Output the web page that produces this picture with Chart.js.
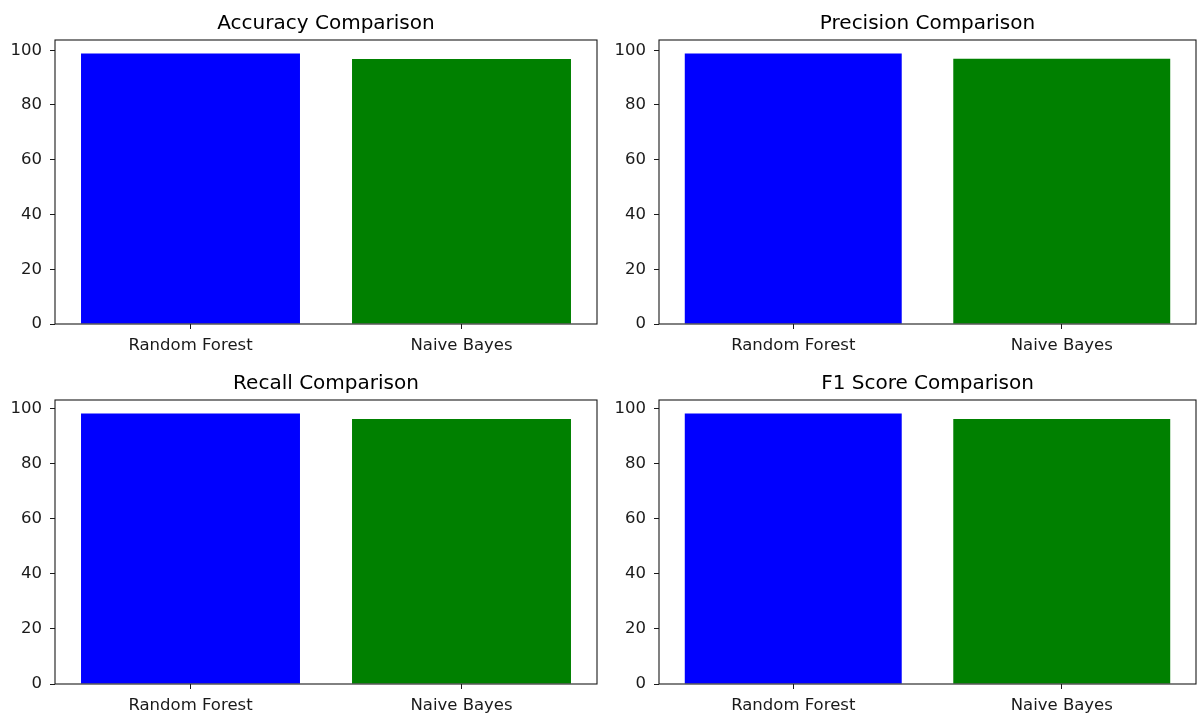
<!DOCTYPE html>
<html>
<head>
<meta charset="utf-8">
<script src="https://cdn.jsdelivr.net/npm/chart.js@4.4.0/dist/chart.umd.min.js"></script>
<style>
  body { margin: 0; background: #fff; }
  #wrap { position: relative; width: 1197px; height: 717px; overflow: hidden; }
  canvas { position: absolute; }
</style>
</head>
<body>
<div id="wrap">
  <canvas id="c0" width="600" height="360" style="left:0;top:0"></canvas>
  <canvas id="c1" width="597" height="360" style="left:600px;top:0"></canvas>
  <canvas id="c2" width="600" height="357" style="left:0;top:360px"></canvas>
  <canvas id="c3" width="597" height="357" style="left:600px;top:360px"></canvas>
</div>
<script>
// data
const models = ["Random Forest", "Naive Bayes"];
const accuracy = [98.8, 96.8];
const precision = [98.8, 96.9];
const recall = [98.2, 96.2];
const f1Score = [98.3, 96.3];
const yTicks = [0, 20, 40, 60, 80, 100];
const barColors = ["#0000ff", "#008000"];

const panels = [
  { id: "c0", title: "Accuracy Comparison", values: accuracy },
  { id: "c1", title: "Precision Comparison", values: precision },
  { id: "c2", title: "Recall Comparison", values: recall },
  { id: "c3", title: "F1 Score Comparison", values: f1Score }
];

const FONT = "'DejaVu Sans', sans-serif";

// box around the plot area, like matplotlib spines
const frame = {
  id: "frame",
  afterDatasetsDraw(chart) {
    const a = chart.chartArea;
    const ctx = chart.ctx;
    ctx.save();
    ctx.strokeStyle = "#1a1a1a";
    ctx.lineWidth = 1.1;
    ctx.strokeRect(a.left, a.top, a.right - a.left, a.bottom - a.top);
    ctx.restore();
  }
};

panels.forEach((p, i) => {
  const rightCol = i % 2 === 1;
  const bottomRow = i >= 2;
  new Chart(document.getElementById(p.id), {
    type: "bar",
    data: {
      labels: models,
      datasets: [{
        data: p.values,
        backgroundColor: barColors,
        borderWidth: 0,
        barPercentage: 0.808,
        categoryPercentage: 1
      }]
    },
    options: {
      responsive: false,
      animation: false,
      layout: { padding: { left: 0, right: rightCol ? 1 : 3, top: 0, bottom: 0 } },
      plugins: {
        legend: { display: false },
        tooltip: { enabled: false },
        title: {
          display: true,
          text: p.title,
          fullSize: false,
          color: "#000",
          font: { family: FONT, size: 20, weight: "normal", lineHeight: 1.2 },
          padding: { top: 12, bottom: 4 }
        }
      },
      scales: {
        x: {
          offset: true,
          grid: { display: true, offset: false, drawOnChartArea: false, drawTicks: true, tickLength: 5, color: "#1a1a1a" },
          border: { display: false },
          ticks: { color: "#1a1a1a", font: { family: FONT, size: 16.5 }, padding: 7, maxRotation: 0 },
          afterFit(s) { s.height = bottomRow ? 33 : 36; }
        },
        y: {
          min: 0,
          max: Math.max(...p.values) * 1.05,
          grid: { display: true, drawOnChartArea: false, drawTicks: true, tickLength: 5, color: "#1a1a1a" },
          border: { display: false },
          ticks: { color: "#1a1a1a", font: { family: FONT, size: 16.5 }, padding: 8 },
          afterBuildTicks(s) { s.ticks = yTicks.map(v => ({ value: v })); },
          afterFit(s) { s.width = rightCol ? 59 : 55; }
        }
      }
    },
    plugins: [frame]
  });
});
</script>
</body>
</html>
